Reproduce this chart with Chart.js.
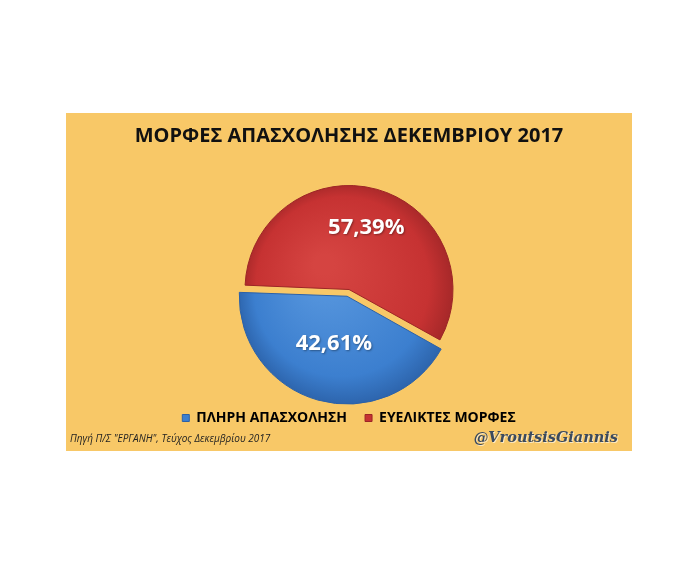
<!DOCTYPE html>
<html>
<head>
<meta charset="utf-8">
<script src="https://cdn.jsdelivr.net/npm/chart.js@4"></script>
<style>
  body { margin: 0; background: #fff; }
  #box { position: absolute; left: 66px; top: 113px; width: 566px; height: 338px; background: #F8C867; }
</style>
</head>
<body>
<div id="box"><canvas id="pie-chart"></canvas></div>
<script>
// data
const labels = ['ΠΛΗΡΗ ΑΠΑΣΧΟΛΗΣΗ', 'ΕΥΕΛΙΚΤΕΣ ΜΟΡΦΕΣ'];
const shares = [42.61, 57.39];
const baseColors = ['#3C7FCF', '#C63232'];
const lightColors = ['#5897DE', '#D54441'];
const darkColors = ['#2B61A8', '#9C2526'];
const labelRadius = [0.47, 0.615];
const sourceText = 'Πηγή Π/Σ "ΕΡΓΑΝΗ", Τεύχος Δεκεμβρίου 2017';
const handleText = '@VroutsisGiannis';

function sliceFill(context) {
  const chart = context.chart;
  const i = context.dataIndex;
  const area = chart.chartArea;
  if (!area) return baseColors[i];
  const cx = (area.left + area.right) / 2;
  const cy = (area.top + area.bottom) / 2;
  const g = chart.ctx.createRadialGradient(cx - 25, cy - 25, 10, cx, cy, 112);
  g.addColorStop(0, lightColors[i]);
  g.addColorStop(0.75, baseColors[i]);
  g.addColorStop(1, darkColors[i]);
  return g;
}

// white percentage labels inside the slices
const sliceLabels = {
  id: 'sliceLabels',
  afterDatasetsDraw(chart) {
    const ctx = chart.ctx;
    const meta = chart.getDatasetMeta(0);
    meta.data.forEach(function(arc, i) {
      const mid = (arc.startAngle + arc.endAngle) / 2;
      const off = (arc.options.offset || 0) / 4;
      const r = arc.outerRadius * labelRadius[i] + off;
      const x = arc.x + Math.cos(mid) * r;
      const y = arc.y + Math.sin(mid) * r;
      ctx.save();
      ctx.font = 'bold 22px "Open Sans"';
      ctx.fillStyle = '#fff';
      ctx.textAlign = 'center';
      ctx.textBaseline = 'middle';
      ctx.shadowColor = 'rgba(0,0,0,0.35)';
      ctx.shadowBlur = 2;
      ctx.shadowOffsetX = 1;
      ctx.shadowOffsetY = 1;
      ctx.fillText(shares[i].toFixed(2).replace('.', ',') + '%', x, y);
      ctx.restore();
    });
  }
};

// source line and handle under the legend
const footer = {
  id: 'footer',
  afterDraw(chart) {
    const ctx = chart.ctx;
    ctx.save();
    ctx.textBaseline = 'middle';
    ctx.font = 'italic 10px "Open Sans"';
    ctx.fillStyle = '#222';
    ctx.textAlign = 'left';
    ctx.fillText(sourceText, 4, chart.height - 12);
    ctx.font = 'bold italic 14.5px "DejaVu Serif"';
    ctx.textAlign = 'right';
    ctx.fillStyle = 'rgba(255,255,255,0.6)';
    ctx.fillText(handleText, chart.width - 13, chart.height - 12);
    ctx.fillStyle = '#3B4A5E';
    ctx.fillText(handleText, chart.width - 14, chart.height - 13);
    ctx.restore();
  }
};

new Chart(document.getElementById('pie-chart'), {
  type: 'pie',
  data: {
    labels: labels,
    datasets: [{
      data: shares,
      backgroundColor: sliceFill,
      borderColor: darkColors,
      borderWidth: 1,
      offset: [28, 0],
      radius: 104
    }]
  },
  options: {
    responsive: true,
    maintainAspectRatio: false,
    animation: false,
    rotation: 119,
    layout: { padding: { bottom: 16 } },
    plugins: {
      title: {
        display: true,
        text: 'ΜΟΡΦΕΣ ΑΠΑΣΧΟΛΗΣΗΣ ΔΕΚΕΜΒΡΙΟΥ 2017',
        color: '#111',
        font: { family: 'Open Sans', size: 20, weight: 'bold' },
        padding: { top: 11, bottom: 38 }
      },
      legend: {
        position: 'bottom',
        labels: {
          boxWidth: 7,
          boxHeight: 7,
          padding: 18,
          color: '#111',
          font: { family: 'Open Sans', size: 14, weight: 'bold' },
          generateLabels: function(chart) {
            return chart.data.labels.map(function(text, i) {
              return {
                text: text,
                fillStyle: baseColors[i],
                strokeStyle: darkColors[i],
                lineWidth: 1,
                index: i
              };
            });
          }
        }
      },
      tooltip: { enabled: false }
    }
  },
  plugins: [sliceLabels, footer]
});
</script>
</body>
</html>
